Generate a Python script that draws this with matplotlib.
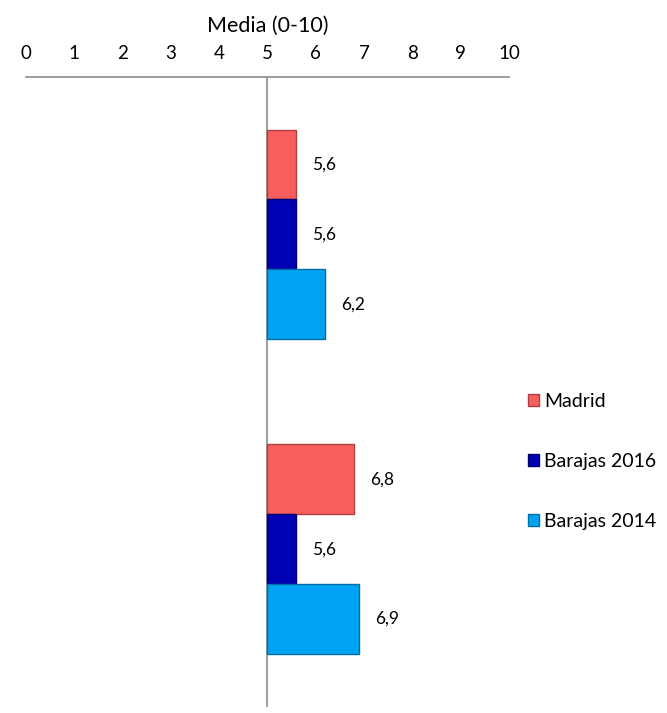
import numpy as np
import matplotlib.pyplot as plt

plt.rcParams['font.family'] = ['Lato', 'DejaVu Sans']

# datos
grupos = ['Grupo 1', 'Grupo 2']
series = ['Madrid', 'Barajas 2016', 'Barajas 2014']
madrid = [5.6, 6.8]
barajas_2016 = [5.6, 5.6]
barajas_2014 = [6.2, 6.9]
colores = ['#F85E5E', '#0000B4', '#00A2F2']
bordes = ['#B04040', '#000070', '#0070A8']

base = 5
valores = [madrid, barajas_2016, barajas_2014]

fig = plt.figure(figsize=(6.67, 7.13), dpi=100)
ax = fig.add_axes([0.039, 0.009, 0.724, 0.883])

y = np.arange(len(grupos))
h = 0.222
offs = [-h, 0, h]
for vals, off, c, e, nom in zip(valores, offs, colores, bordes, series):
    vals = np.array(vals)
    bars = ax.barh(y + off, vals - base, left=base, height=h, color=c,
                   edgecolor=e, linewidth=1.0, label=nom)
    for b, v in zip(bars, vals):
        ax.text(v + 0.58, b.get_y() + b.get_height() / 2,
                f'{v:.1f}'.replace('.', ','), ha='center', va='center',
                fontsize=12.5)

ax.set_xlim(0, 10)
ax.set_ylim(len(grupos) - 0.5, -0.5)
ax.axvline(base, color='#8C8C8C', lw=1.2, zorder=0)

for s in ['left', 'right', 'bottom']:
    ax.spines[s].set_visible(False)
ax.spines['top'].set_color('#8C8C8C')
ax.spines['top'].set_linewidth(1.2)
ax.xaxis.tick_top()
ax.xaxis.set_label_position('top')
ax.set_xticks(range(0, 11))
ax.tick_params(axis='x', length=0, pad=10.5, labelsize=13.5)
ax.set_yticks([])
ax.set_xlabel('Media (0-10)', fontsize=15.5, labelpad=10)

handles, labels = ax.get_legend_handles_labels()
fig.legend(handles, labels, loc='center left', bbox_to_anchor=(0.765, 0.353),
           frameon=False, fontsize=14, labelspacing=2.2, handlelength=0.6,
           handleheight=0.6, handletextpad=0.25)

fig.savefig('out.png', dpi=100)
